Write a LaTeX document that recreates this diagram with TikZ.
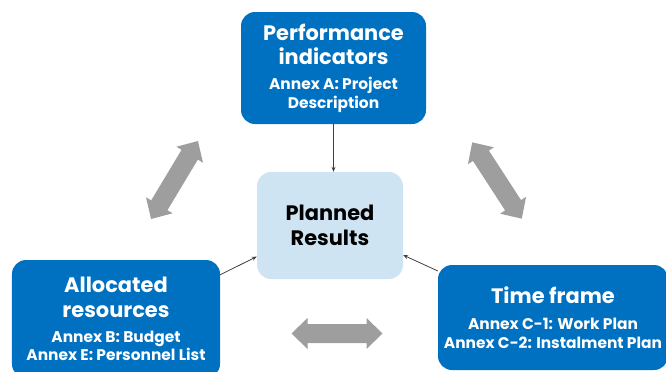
\documentclass[tikz,border=0pt]{standalone}
\usepackage{fontspec}
\setmainfont{Poppins}
\usetikzlibrary{arrows.meta}
\definecolor{boxblue}{HTML}{0070C0}
\definecolor{resultblue}{HTML}{CFE4F3}
\definecolor{arrowgray}{HTML}{9E9E9E}
\definecolor{linkgray}{HTML}{404040}
\newcommand{\titlesize}{\fontsize{21}{25}\selectfont}
\newcommand{\subsize}{\fontsize{15.5}{18.5}\selectfont}
\tikzset{blue box/.style={fill=boxblue,text=white,rounded corners=14bp,
			align=center,inner sep=0pt,font=\bfseries\subsize},
		 result box/.style={blue box,fill=resultblue,text=black},
		 link/.style={draw=linkgray,line width=0.8bp,-{Stealth[length=5bp,width=4bp]}},
		 big arrow/.pic={\fill[arrowgray] (-45.5,0) -- (-29.5,15.5) -- (-29.5,9.5)
			-- (29.5,9.5) -- (29.5,15.5) -- (45.5,0) -- (29.5,-15.5) -- (29.5,-9.5)
			-- (-29.5,-9.5) -- (-29.5,-15.5) -- cycle;}}

\begin{document}
\begin{tikzpicture}[x=1bp,y=-1bp]
	\useasboundingbox (0,0) rectangle (666,371);
	\node[blue box,minimum width=185bp,minimum height=112bp] (indicators) at (333.5,68)
		{\titlesize Performance\\[6.5bp]\titlesize indicators\\[6.5bp]Annex A: Project\\Description};
	\node[result box,minimum width=146bp,minimum height=107bp] (results) at (330,225.5)
		{\titlesize Planned\\[6.5bp]\titlesize Results};
	\node[blue box,minimum width=208bp,minimum height=118bp] (resources) at (116,319)
		{\titlesize Allocated\\[6.5bp]\titlesize resources\\[6.5bp]Annex B: Budget\\Annex E: Personnel List};
	\node[blue box,minimum width=230bp,minimum height=105bp] (timeframe) at (553,317.5)
		{\titlesize Time frame\\[7.5bp]Annex C-1: Work Plan\\Annex C-2: Instalment Plan};
	\draw[link] (indicators.south) -- (indicators.south |- results.north);
	\draw[link] (resources.23) -- (results.203);
	\draw[link] (timeframe.158) -- (results.338);
	\pic[rotate=59] at (174.5,180) {big arrow};
	\pic[rotate=-57] at (497,180.5) {big arrow};
	\pic at (337,333.5) {big arrow};
\end{tikzpicture}
\end{document}
